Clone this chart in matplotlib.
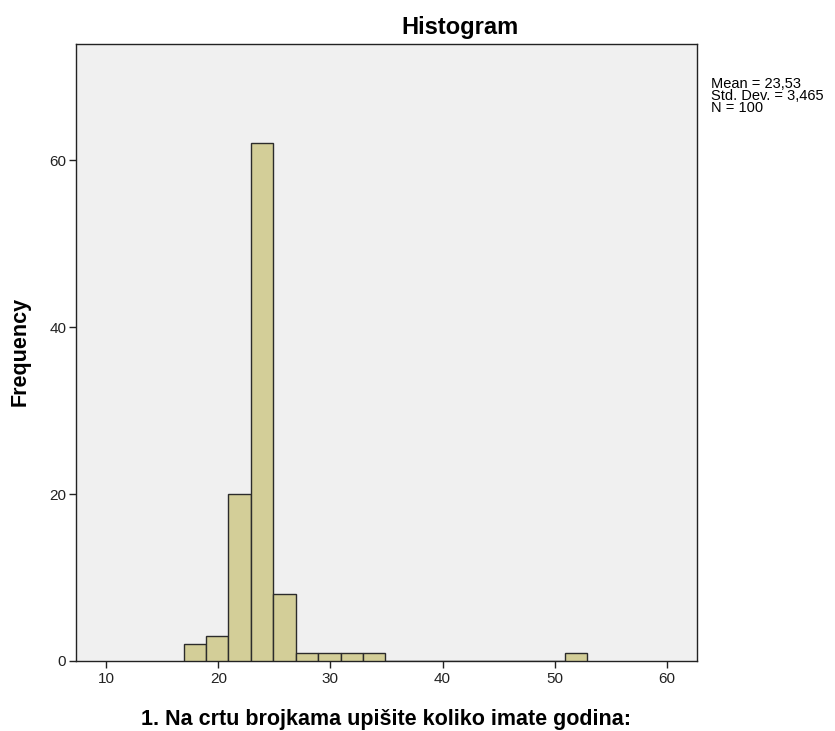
import matplotlib
matplotlib.use('Agg')
import matplotlib.pyplot as plt
import numpy as np

# histogram bins (SPSS auto bins, width 2)
bin_start = 16.9
bin_width = 2
counts = [2, 3, 20, 62, 8, 1, 1, 1, 1, 0, 0, 0, 0, 0, 0, 0, 0, 1]
x_ticks = [10, 20, 30, 40, 50, 60]
y_ticks = [0, 20, 40, 60]
stats = ['Mean = 23,53', 'Std. Dev. = 3,465', 'N = 100']

plt.rcParams['font.family'] = ['Liberation Sans', 'DejaVu Sans']

W, H = 835, 731
fig = plt.figure(figsize=(W / 100, H / 100), dpi=100, facecolor='white')
ax = fig.add_axes([76/W, 1 - 661/H, 621/W, 617/H])
ax.set_facecolor('#f0f0f0')

lefts = bin_start + bin_width * np.arange(len(counts))
ax.bar(lefts, counts, width=bin_width, align='edge', color='#d3ce98',
       edgecolor='#2b2b2b', linewidth=1.0, zorder=3)

ax.set_xlim(7.3, 62.7)
ax.set_ylim(0, 73.9)
ax.set_xticks(x_ticks)
ax.set_yticks(y_ticks)
ax.tick_params(direction='out', length=5, width=1, colors='#222222',
               labelsize=11)
ax.tick_params(axis='x', pad=3)
ax.tick_params(axis='y', pad=2)
for s in ax.spines.values():
    s.set_color('#222222')
    s.set_linewidth(1.0)

fig.text(460/W, 1 - 34/H, 'Histogram', fontsize=17, fontweight='bold',
         ha='center', va='baseline')
fig.text(20/W, 1 - 351/H, 'Frequency', fontsize=15.5, fontweight='bold',
         rotation=90, ha='center', va='center')
fig.text(386/W, 1 - 725/H, '1. Na crtu brojkama upišite koliko imate godina:',
         fontsize=15.5, fontweight='bold', ha='center', va='baseline')

fig.text(711/W, 1 - 77/H, '\n'.join(stats), fontsize=10.5,
         va='top', ha='left', linespacing=0.8)

plt.savefig('out.png', dpi=100)
